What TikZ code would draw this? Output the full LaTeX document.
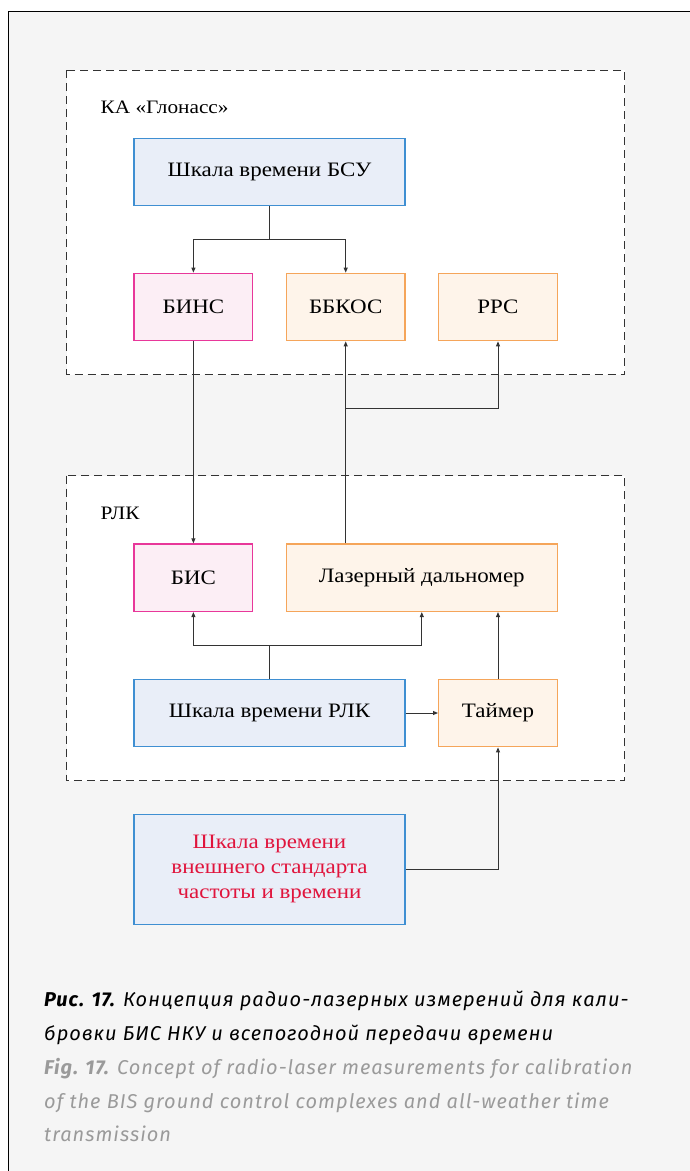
\documentclass[tikz,border=0pt]{standalone}
\usepackage{fontspec}
\setmainfont{Liberation Serif}[FakeStretch=1.12]
\newfontfamily\capfont{Fira Sans}[LetterSpace=5]
\usetikzlibrary{arrows.meta}

\definecolor{pagebg}{HTML}{F5F5F5}
\definecolor{linec}{HTML}{333333}
\definecolor{blueline}{HTML}{3F8FD2}
\definecolor{bluefill}{HTML}{E9EEF8}
\definecolor{pinkline}{HTML}{E8379A}
\definecolor{pinkfill}{HTML}{FCEEF5}
\definecolor{orangeline}{HTML}{F5A55A}
\definecolor{orangefill}{HTML}{FEF4EA}
\definecolor{extred}{HTML}{E0143C}
\definecolor{engray}{HTML}{9A9A9A}

\tikzset{
  x=1pt, y=-1pt,
  boxfont/.style={font=\fontsize{20.5}{25}\selectfont},
  block/.style={draw, line width=1.3pt, boxfont, align=center, inner sep=0pt, minimum height=67.5pt},
  bluebox/.style={block, draw=blueline, fill=bluefill},
  pinkbox/.style={block, draw=pinkline, fill=pinkfill},
  orangebox/.style={block, draw=orangeline, fill=orangefill},
  wide/.style={minimum width=271pt},
  narrow/.style={minimum width=118.7pt},
  group/.style={draw=linec, fill=white, line width=1pt, dash pattern=on 8pt off 5pt},
  grouplabel/.style={font=\fontsize{19}{24}\selectfont, anchor=west, inner sep=0pt},
  arr/.style={draw=linec, line width=0.9pt, -{Triangle[length=5pt,width=4pt]}},
  link/.style={draw=linec, line width=0.9pt},
  caption/.style={anchor=base west, inner sep=0pt, font=\capfont\itshape\fontsize{20}{26}\selectfont}
}

\begin{document}
\begin{tikzpicture}
% page and frame
\useasboundingbox (0,0) rectangle (689,1171);
\fill[white] (0,0) rectangle (689,1171);
\draw[fill=pagebg, line width=1pt] (8,1175) -- (8,11) -- (693,11) -- (693,1175) -- cycle;

% dashed groups
\draw[group] (66.7,70.3) rectangle (624.7,374.5);
\draw[group] (66.7,475.7) rectangle (624.7,780.5);
\node[grouplabel] (kalabel) at (100.5,107) {КА «Глонасс»};
\node[grouplabel] (rlklabel) at (100.5,513) {РЛК};

% blocks
\node[bluebox, wide] (bsu) at (269.5,172) {Шкала времени БСУ};
\node[pinkbox, narrow] (bins) at (193.4,307) {БИНС};
\node[orangebox, narrow] (bbkos) at (345.7,307) {ББКОС};
\node[orangebox, narrow] (rrs) at (498,307) {РРС};

\node[pinkbox, narrow] (bis) at (193.4,577.7) {БИС};
\node[orangebox, wide] (laser) at (421.8,577.7) {Лазерный дальномер};
\node[bluebox, wide] (rlk) at (269.5,713) {Шкала времени РЛК};
\node[orangebox, narrow] (timer) at (498,713) {Таймер};

\node[bluebox, wide, minimum height=110pt, text=extred] (ext) at (269.5,869.3)
  {Шкала времени\\внешнего стандарта\\частоты и времени};

% connectors
\coordinate (j1) at (269.5,239.3);
\draw[link] (bsu.south) -- (j1);
\draw[arr] (j1) -| (bins.north);
\draw[arr] (j1) -| (bbkos.north);
\draw[arr] (bins.south) -- (bis.north);

\coordinate (j2) at (345.7,408.7);
\draw[arr] (laser.north -| bbkos.south) -- (bbkos.south);
\draw[arr] (j2) -| (rrs.south);

\coordinate (j3) at (269.5,645.3);
\draw[link] (rlk.north) -- (j3);
\draw[arr] (j3) -| (bis.south);
\draw[arr] (j3) -| (laser.south);
\draw[arr] (rlk.east) -- (timer.west);
\draw[arr] (timer.north) -- (timer.north |- laser.south);
\draw[arr] (ext.east) -| (timer.south);

% caption
\node[caption, text=black] (cap1) at (44,1006.7) {{\bfseries Рис. 17.} Концепция радио-лазерных измерений для кали-};
\node[caption, text=black] (cap2) at (44,1040.3) {бровки БИС НКУ и всепогодной передачи времени};
\node[caption, text=engray] (cap3) at (44,1074) {{\bfseries Fig. 17.} Concept of radio-laser measurements for calibration};
\node[caption, text=engray] (cap4) at (44,1108) {of the BIS ground control complexes and all-weather time};
\node[caption, text=engray] (cap5) at (44,1141.7) {transmission};
\end{tikzpicture}
\end{document}
